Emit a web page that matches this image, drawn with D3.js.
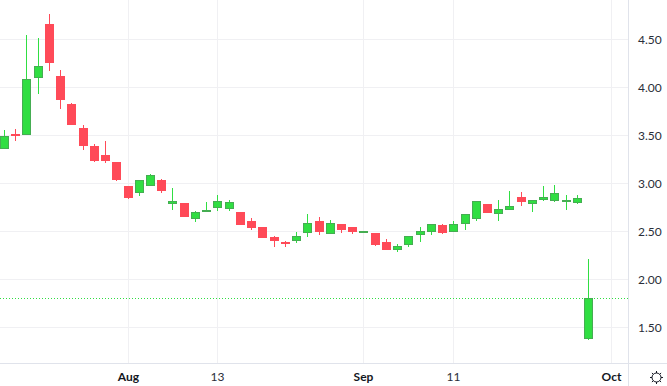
<!DOCTYPE html>
<html>
<head>
<meta charset="utf-8">
<script src="https://cdn.jsdelivr.net/npm/d3@7"></script>
<style>
    html, body { margin: 0; padding: 0; background: #fff; }
    svg { display: block; }
    text { font-family: Lato, sans-serif; font-size: 12px; fill: #2a2e39; }
    .x-tick-major { font-weight: 700; fill: #131722; }
</style>
</head>
<body>
<svg id="chart"></svg>
<script>
const opens = [3.363,3.516,3.505,4.099,4.661,4.12,3.828,3.578,3.391,3.297,3.224,2.974,2.904,2.977,3.036,2.786,2.797,2.633,2.714,2.748,2.738,2.703,2.609,2.547,2.443,2.39,2.401,2.484,2.609,2.474,2.578,2.547,2.5,2.484,2.39,2.307,2.359,2.464,2.495,2.568,2.495,2.578,2.63,2.786,2.682,2.724,2.859,2.786,2.828,2.818,2.807,2.797,1.383];
const closes = [3.492,3.49,4.089,4.224,4.255,3.87,3.609,3.391,3.234,3.234,3.036,2.849,3.033,3.085,2.922,2.818,2.651,2.703,2.724,2.818,2.804,2.568,2.536,2.432,2.401,2.37,2.453,2.589,2.495,2.589,2.516,2.495,2.505,2.359,2.307,2.349,2.453,2.505,2.578,2.484,2.578,2.682,2.818,2.693,2.734,2.766,2.807,2.828,2.859,2.901,2.828,2.849,1.804];
const highs = [3.557,3.568,4.547,4.516,4.766,4.182,3.839,3.609,3.411,3.443,3.224,2.974,3.033,3.099,3.047,2.953,2.797,2.714,2.807,2.88,2.828,2.703,2.641,2.547,2.453,2.401,2.495,2.682,2.651,2.62,2.578,2.547,2.505,2.484,2.422,2.37,2.453,2.547,2.578,2.578,2.609,2.682,2.818,2.786,2.828,2.922,2.911,2.828,2.974,2.984,2.88,2.88,2.214];
const lows = [3.363,3.443,3.505,3.932,4.172,3.776,3.609,3.349,3.224,3.214,3.026,2.839,2.87,2.977,2.901,2.724,2.651,2.599,2.703,2.714,2.717,2.568,2.516,2.432,2.339,2.339,2.38,2.443,2.464,2.474,2.484,2.474,2.5,2.349,2.307,2.286,2.339,2.391,2.464,2.474,2.495,2.516,2.609,2.693,2.609,2.724,2.766,2.703,2.818,2.807,2.724,2.786,1.37];

const priceTicks = [4.5, 4, 3.5, 3, 2.5, 2, 1.5];
const timeTickIndex = [11, 19, 32, 40, 54];
const timeTickLabels = ['Aug', '13', 'Sep', '11', 'Oct'];
const timeTickMajor = [true, false, true, false, true];
const lastPrice = 1.804;

const width = 667, height = 386;
const plotRight = 628, plotBottom = 363;

const svg = d3.select('#chart').attr('width', width).attr('height', height);

// bar 0 and bar 52 centres
const x = d3.scaleLinear().domain([0, 52]).range([4.5, 588.6]);
const y = d3.scaleLinear().domain([1.5, 4.5]).range([327.5, 39.5]);
const px = i => Math.floor(x(i));

const upFill = '#30de42', upBorder = '#45ad52', downFill = '#ff4a58';

// grid
const grid = svg.append('g').attr('shape-rendering', 'crispEdges').attr('stroke', '#f0f0f3');
grid.selectAll('.h').data(priceTicks).join('line')
    .attr('class', 'h')
    .attr('x1', 0).attr('x2', plotRight)
    .attr('y1', d => Math.floor(y(d)) + 0.5).attr('y2', d => Math.floor(y(d)) + 0.5);
grid.selectAll('.v').data(timeTickIndex).join('line')
    .attr('class', 'v')
    .attr('y1', 0).attr('y2', plotBottom)
    .attr('x1', d => px(d) + 0.5).attr('x2', d => px(d) + 0.5);

// last price dotted line
svg.append('line')
    .attr('x1', 0).attr('x2', plotRight)
    .attr('y1', Math.floor(y(lastPrice)) + 0.5).attr('y2', Math.floor(y(lastPrice)) + 0.5)
    .attr('stroke', '#30de42')
    .attr('stroke-dasharray', '1 2')
    .attr('shape-rendering', 'crispEdges');

// candles
const bars = d3.range(opens.length);
const candles = svg.append('g').attr('shape-rendering', 'crispEdges');
const isUp = i => closes[i] >= opens[i];

candles.selectAll('.wick').data(bars).join('line')
    .attr('class', 'wick')
    .attr('x1', d => px(d) + 0.5).attr('x2', d => px(d) + 0.5)
    .attr('y1', d => Math.round(y(highs[d]))).attr('y2', d => Math.round(y(lows[d])))
    .attr('stroke', d => isUp(d) ? upFill : downFill);

candles.selectAll('.body').data(bars).join('rect')
    .attr('class', 'body')
    .attr('x', d => px(d) - 4 + 0.5)
    .attr('width', 8)
    .attr('y', d => Math.round(y(Math.max(opens[d], closes[d]))) + 0.5)
    .attr('height', d => Math.max(1, Math.round(y(Math.min(opens[d], closes[d]))) - Math.round(y(Math.max(opens[d], closes[d]))) - 1))
    .attr('fill', d => isUp(d) ? upFill : downFill)
    .attr('stroke', d => isUp(d) ? upBorder : downFill);

// axis borders
const borders = svg.append('g').attr('shape-rendering', 'crispEdges').attr('stroke', '#e0e3eb');
borders.append('line').attr('x1', plotRight + 0.5).attr('x2', plotRight + 0.5).attr('y1', 0).attr('y2', height);
borders.append('line').attr('x1', 0).attr('x2', width).attr('y1', plotBottom + 0.5).attr('y2', plotBottom + 0.5);

// price labels
svg.append('g').selectAll('text').data(priceTicks).join('text')
    .attr('x', 638)
    .attr('y', d => y(d))
    .attr('dy', '0.36em')
    .text(d => d3.format('.2f')(d));

// time labels
svg.append('g').selectAll('text').data(timeTickIndex).join('text')
    .attr('class', (d, i) => timeTickMajor[i] ? 'x-tick-major' : null)
    .attr('x', d => px(d) + 0.5)
    .attr('y', 381)
    .attr('text-anchor', 'middle')
    .text((d, i) => timeTickLabels[i]);

// settings icon bottom right
const icon = svg.append('g')
    .attr('transform', 'translate(656.5,377.5)')
    .attr('fill', 'none')
    .attr('stroke', '#131722');
icon.append('circle').attr('r', 4.5);
icon.selectAll('line').data(d3.range(8)).join('line')
    .attr('x1', d => 4.5 * Math.cos(d * Math.PI / 4)).attr('y1', d => 4.5 * Math.sin(d * Math.PI / 4))
    .attr('x2', d => 6.5 * Math.cos(d * Math.PI / 4)).attr('y2', d => 6.5 * Math.sin(d * Math.PI / 4));
</script>
</body>
</html>
